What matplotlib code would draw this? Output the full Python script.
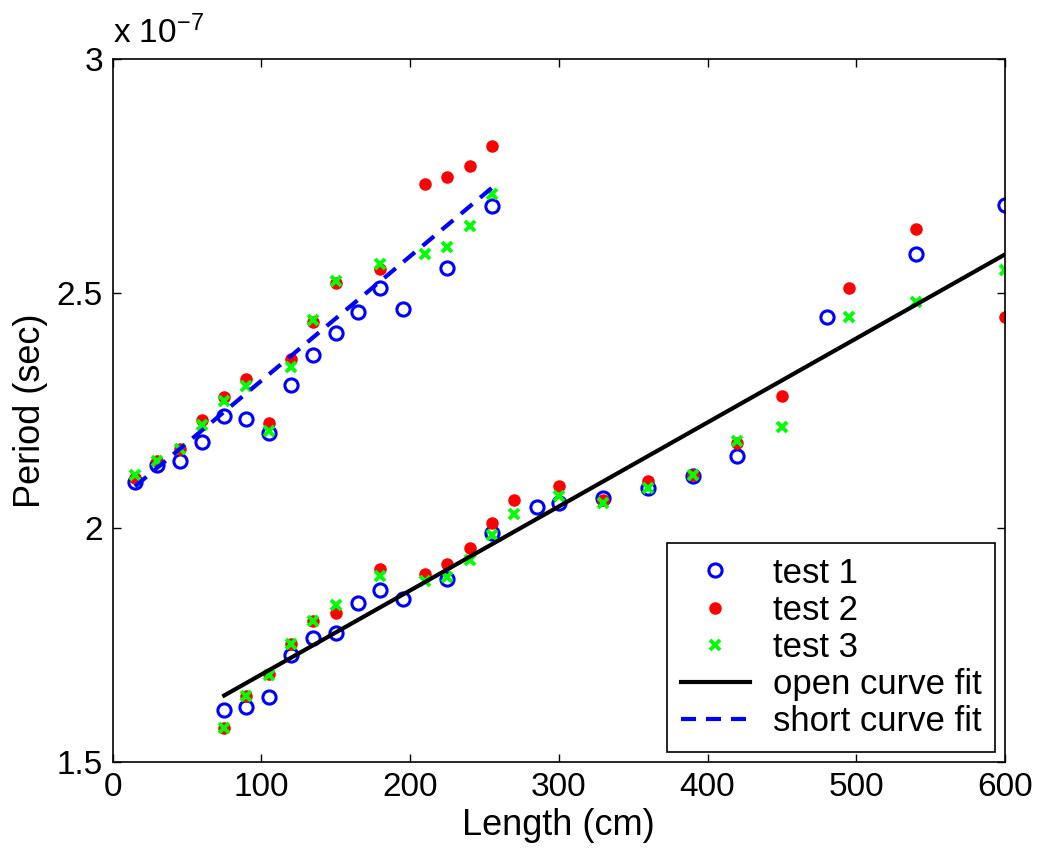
import numpy as np
import matplotlib
matplotlib.use("Agg")
import matplotlib.pyplot as plt

plt.rcParams['font.family'] = ['Liberation Sans', 'DejaVu Sans']
plt.rcParams['mathtext.default'] = 'regular'

# Short cable measurements (period in units of 1e-7 s)
short_len1 = [15, 30, 45, 60, 75, 90, 105, 120, 135, 150, 165, 180, 195, 225, 255]
short_t1 = [2.098, 2.133, 2.143, 2.183, 2.238, 2.232, 2.201, 2.304, 2.368, 2.415,
            2.461, 2.511, 2.467, 2.555, 2.686]
short_len23 = [15, 30, 45, 60, 75, 90, 105, 120, 135, 150, 180, 210, 225, 240, 255]
short_t2 = [2.105, 2.142, 2.167, 2.230, 2.279, 2.317, 2.223, 2.359, 2.439, 2.523,
            2.551, 2.733, 2.749, 2.772, 2.814]
short_t3 = [2.112, 2.143, 2.167, 2.219, 2.270, 2.303, 2.207, 2.343, 2.443, 2.526,
            2.563, 2.584, 2.599, 2.644, 2.712]

# Open cable measurements
open_len1 = [75, 90, 105, 120, 135, 150, 165, 180, 195, 225, 255, 285, 300, 330,
             360, 390, 420, 480, 540, 600]
open_t1 = [1.612, 1.617, 1.639, 1.728, 1.764, 1.776, 1.839, 1.868, 1.848, 1.890,
           1.988, 2.045, 2.052, 2.063, 2.085, 2.110, 2.152, 2.450, 2.584, 2.688]
open_len23 = [75, 90, 105, 120, 135, 150, 180, 210, 225, 240, 255, 270, 300, 330,
              360, 390, 420, 450, 495, 540, 600]
open_t2 = [1.572, 1.641, 1.688, 1.752, 1.801, 1.817, 1.912, 1.901, 1.922, 1.957,
           2.011, 2.058, 2.088, 2.060, 2.100, 2.112, 2.180, 2.280, 2.512, 2.638, 2.450]
open_t3 = [1.572, 1.640, 1.686, 1.752, 1.801, 1.835, 1.897, 1.887, 1.895, 1.930,
           1.984, 2.030, 2.068, 2.052, 2.084, 2.113, 2.185, 2.215, 2.450, 2.481, 2.550]

# Fit line end points
open_fit_len = [75, 600]
open_fit_t = [1.642, 2.583]
short_fit_len = [15, 255]
short_fit_t = [2.088, 2.725]

fig = plt.figure(figsize=(10.45, 8.57), dpi=100)
ax = fig.add_axes([0.1078, 0.1108, 0.8539, 0.8204])

fs = 24
fs_lab = 26

ax.plot(short_len1 + open_len1, short_t1 + open_t1, 'o', ls='none', mfc='none',
        mec=(0, 0, 1), mew=2.2, ms=9.5, label='test 1')
ax.plot(short_len23 + open_len23, short_t2 + open_t2, 'o', ls='none', mfc=(1, 0, 0),
        mec=(1, 0, 0), ms=8, label='test 2')
ax.plot(short_len23 + open_len23, short_t3 + open_t3, 'x', ls='none', mec=(0, 1, 0),
        mew=2.8, ms=6.5, label='test 3')
ax.plot(open_fit_len, open_fit_t, color='k', lw=3, label='open curve fit')
ax.plot(short_fit_len, short_fit_t, color=(0, 0, 1), lw=3, ls=(0, (3.6, 2.4)),
        label='short curve fit')

ax.set_xlim(0, 600)
ax.set_ylim(1.5, 3.0)
ax.set_xticks(np.arange(0, 601, 100))
ax.set_yticks([1.5, 2, 2.5, 3])
ax.set_yticklabels(['1.5', '2', '2.5', '3'])

ax.tick_params(direction='in', length=6, width=1, top=True, right=True,
               labelsize=fs, pad=7)
for s in ax.spines.values():
    s.set_linewidth(1.2)

ax.set_xlabel('Length (cm)', fontsize=fs_lab, labelpad=4)
ax.set_ylabel('Period (sec)', fontsize=fs_lab, labelpad=6)

ax.text(0.0, 1.012, 'x 10$^{-7}$', transform=ax.transAxes, fontsize=fs,
        ha='left', va='bottom')

leg = ax.legend(loc='lower right', bbox_to_anchor=(0.989, 0.014), borderaxespad=0,
                fontsize=25, numpoints=1, handlelength=2.0, handletextpad=0.65,
                labelspacing=0.12, borderpad=0.4, fancybox=False, framealpha=1)
leg.get_frame().set_edgecolor('k')
leg.get_frame().set_linewidth(1.2)

fig.savefig('out.png', dpi=100)
